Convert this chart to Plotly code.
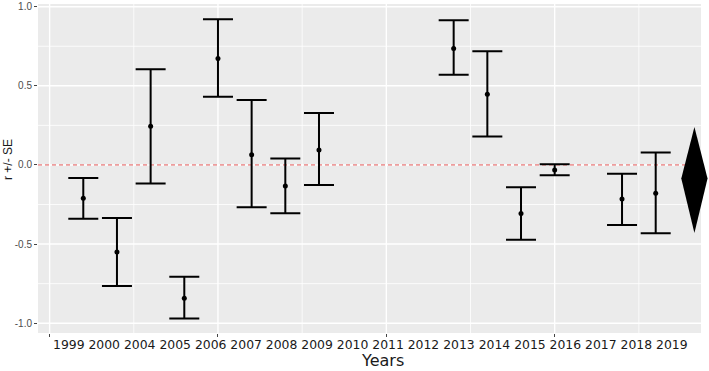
import plotly.graph_objects as go

# ---- data ----
years = ["1999", "2000", "2004", "2005", "2006", "2007", "2008", "2009", "2010",
         "2011", "2012", "2013", "2014", "2015", "2016", "2017", "2018", "2019"]
positions = [1, 2, 3, 4, 5, 6, 7, 8, 12, 13, 14, 15, 17, 18]
r_est = [-0.21, -0.55, 0.245, -0.843, 0.673, 0.065, -0.133, 0.095,
         0.736, 0.446, -0.307, -0.032, -0.216, -0.179]
r_upper = [-0.082, -0.336, 0.605, -0.707, 0.92, 0.41, 0.04, 0.328,
           0.915, 0.719, -0.141, 0.004, -0.055, 0.078]
r_lower = [-0.34, -0.765, -0.118, -0.97, 0.431, -0.267, -0.305, -0.126,
           0.57, 0.179, -0.473, -0.065, -0.38, -0.431]

summary_pos = 19.15
summary_halfwidth = 0.39
summary_est = -0.085
summary_lower = -0.43
summary_upper = 0.24

y_ticks = [-1.0, -0.5, 0.0, 0.5, 1.0]
y_ticktext = ["-1.0", "-0.5", "0.0", "0.5", "1.0"]
y_minor = [-0.75, -0.25, 0.25, 0.75]
x_ticks = [0, 5, 10, 15]
x_minor = [2.5, 7.5, 12.5, 17.5]

# ---- layout geometry ----
W, H = 709, 371
ML, MR, MT, MB = 38, 0, 4, 38
x_panel = [-0.345, 19.345]
x_range = [-0.345, 19.583]
y_range = [-1.062, 1.017]

fig = go.Figure()

fig.add_trace(go.Scatter(
    x=positions, y=r_est, mode="markers",
    marker=dict(color="black", size=5),
    error_y=dict(type="data", symmetric=False,
                 array=[u - e for u, e in zip(r_upper, r_est)],
                 arrayminus=[e - l for e, l in zip(r_est, r_lower)],
                 color="black", thickness=2, width=15),
    showlegend=False, hoverinfo="skip"))

fig.add_trace(go.Scatter(
    x=[summary_pos - summary_halfwidth, summary_pos, summary_pos + summary_halfwidth,
       summary_pos, summary_pos - summary_halfwidth],
    y=[summary_est, summary_upper, summary_est, summary_lower, summary_est],
    mode="lines", fill="toself", fillcolor="black",
    line=dict(color="black", width=0), showlegend=False, hoverinfo="skip"))

shapes = []
shapes.append(dict(type="rect", xref="x", yref="paper", x0=x_panel[0], x1=x_panel[1],
                   y0=0, y1=1, fillcolor="#EBEBEB", line=dict(width=0), layer="below"))
for v in x_minor:
    shapes.append(dict(type="line", xref="x", yref="paper", x0=v, x1=v, y0=0, y1=1,
                       line=dict(color="white", width=0.8), layer="below"))
for v in x_ticks:
    shapes.append(dict(type="line", xref="x", yref="paper", x0=v, x1=v, y0=0, y1=1,
                       line=dict(color="white", width=1.4), layer="below"))
for v in y_minor:
    shapes.append(dict(type="line", xref="x", yref="y", x0=x_panel[0], x1=x_panel[1],
                       y0=v, y1=v, line=dict(color="white", width=0.8), layer="below"))
for v in y_ticks:
    shapes.append(dict(type="line", xref="x", yref="y", x0=x_panel[0], x1=x_panel[1],
                       y0=v, y1=v, line=dict(color="white", width=1.4), layer="below"))
shapes.append(dict(type="line", xref="x", yref="y", x0=x_panel[0], x1=x_panel[1],
                   y0=0, y1=0, line=dict(color="#E25555", width=1, dash="4px,3px"),
                   layer="below"))

def px_to_paper_x(px):
    return (px - ML) / (W - ML - MR)

def px_to_paper_y(py):
    return (H - MB - py) / (H - MB - MT)

annotations = [
    dict(text=" ".join(years), xref="paper", yref="paper",
         x=px_to_paper_x(51), y=px_to_paper_y(344), xanchor="left", yanchor="middle",
         showarrow=False, font=dict(family="DejaVu Sans", size=12.4, color="#1a1a1a")),
    dict(text="Years", xref="paper", yref="paper",
         x=px_to_paper_x(359), y=px_to_paper_y(361), xanchor="left", yanchor="middle",
         showarrow=False, font=dict(family="DejaVu Sans", size=16, color="#1a1a1a")),
    dict(text="r +/- SE", xref="paper", yref="paper",
         x=px_to_paper_x(8), y=px_to_paper_y(160), xanchor="center", yanchor="middle",
         textangle=-90, showarrow=False,
         font=dict(family="Liberation Sans", size=12, color="#1a1a1a")),
]

fig.update_layout(
    width=W, height=H,
    margin=dict(l=ML, r=MR, t=MT, b=MB, pad=0),
    paper_bgcolor="white", plot_bgcolor="white",
    shapes=shapes, annotations=annotations,
    xaxis=dict(range=x_range, showgrid=False, zeroline=False, showline=False,
               tickmode="array", tickvals=x_ticks, showticklabels=False,
               ticks="outside", ticklen=3, tickcolor="#444444", tickwidth=1),
    yaxis=dict(range=y_range, showgrid=False, zeroline=False, showline=False,
               tickmode="array", tickvals=y_ticks, ticktext=y_ticktext,
               ticks="outside", ticklen=3, tickcolor="#444444", tickwidth=1,
               tickfont=dict(family="Liberation Sans", size=10, color="#4D4D4D")),
)

fig.write_html("out.html")
